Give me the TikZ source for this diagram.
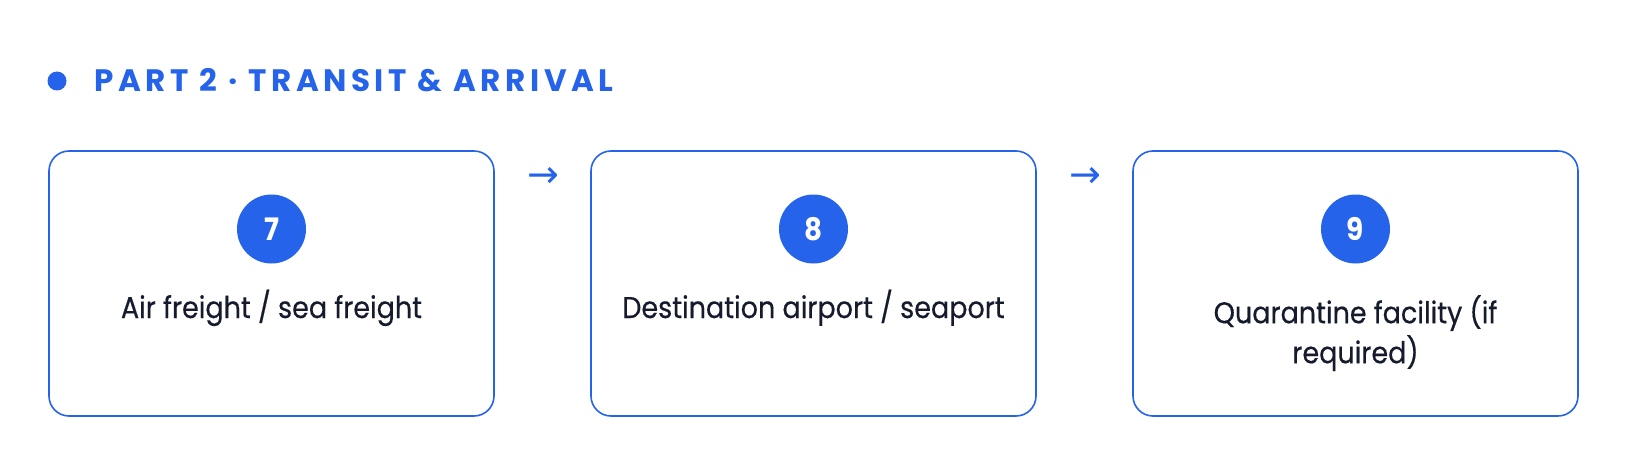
\documentclass[tikz,border=0pt]{standalone}
\usepackage{fontspec}
\setmainfont{Poppins}[FakeStretch=0.9]
\newfontfamily\bodyfont{Poppins}[FakeStretch=0.9,FakeBold=0.4]
\newfontfamily\titlefont{Poppins}[LetterSpace=14.5]
\newfontfamily\symfont{DejaVu Sans}
\definecolor{accent}{HTML}{2563EB}
\definecolor{ink}{HTML}{151B2C}
\begin{document}
\begin{tikzpicture}[x=1pt,y=-1pt,
  card/.style={draw=accent,line width=1.6pt,rounded corners=20pt,minimum width=445pt,minimum height=265pt,inner sep=0pt},
  badge/.style={circle,fill=accent,minimum size=69pt,inner sep=0pt,text=white,font=\fontsize{31}{34}\selectfont\bfseries},
  label/.style={text=ink,font=\bodyfont\fontsize{30}{40}\selectfont,align=center,anchor=base,inner sep=0pt},
  flow/.style={text=accent,font=\symfont\fontsize{38}{38}\selectfont,inner sep=0pt},
  heading/.style={text=accent,font=\titlefont\fontsize{31}{31}\selectfont\bfseries,anchor=base west,inner sep=0pt}]
\useasboundingbox[fill=white] (0,0) rectangle (1632,476);
\fill[accent] (57,81) circle[radius=9.5pt] coordinate (dot);
\node[heading] (title) at (94,92) {PART 2 · TRANSIT \& ARRIVAL};
\node[card] (c1) at (271.5,283.5) {};
\node[card] (c2) at (813.5,283.5) {};
\node[card] (c3) at (1355.5,283.5) {};
\node[badge] (b1) at (271.5,229) {7};
\node[badge] (b2) at (813.5,229) {8};
\node[badge] (b3) at (1355.5,229) {9};
\node[label] (t1) at (271.5,318) {Air freight / sea freight};
\node[label] (t2) at (813.5,318) {Destination airport / seaport};
\node[label,anchor=north] (t3) at (1355.5,295) {Quarantine facility (if\\required)};
\node[flow] (a1) at (543,177) {→};
\node[flow] (a2) at (1085,177) {→};
\end{tikzpicture}
\end{document}
